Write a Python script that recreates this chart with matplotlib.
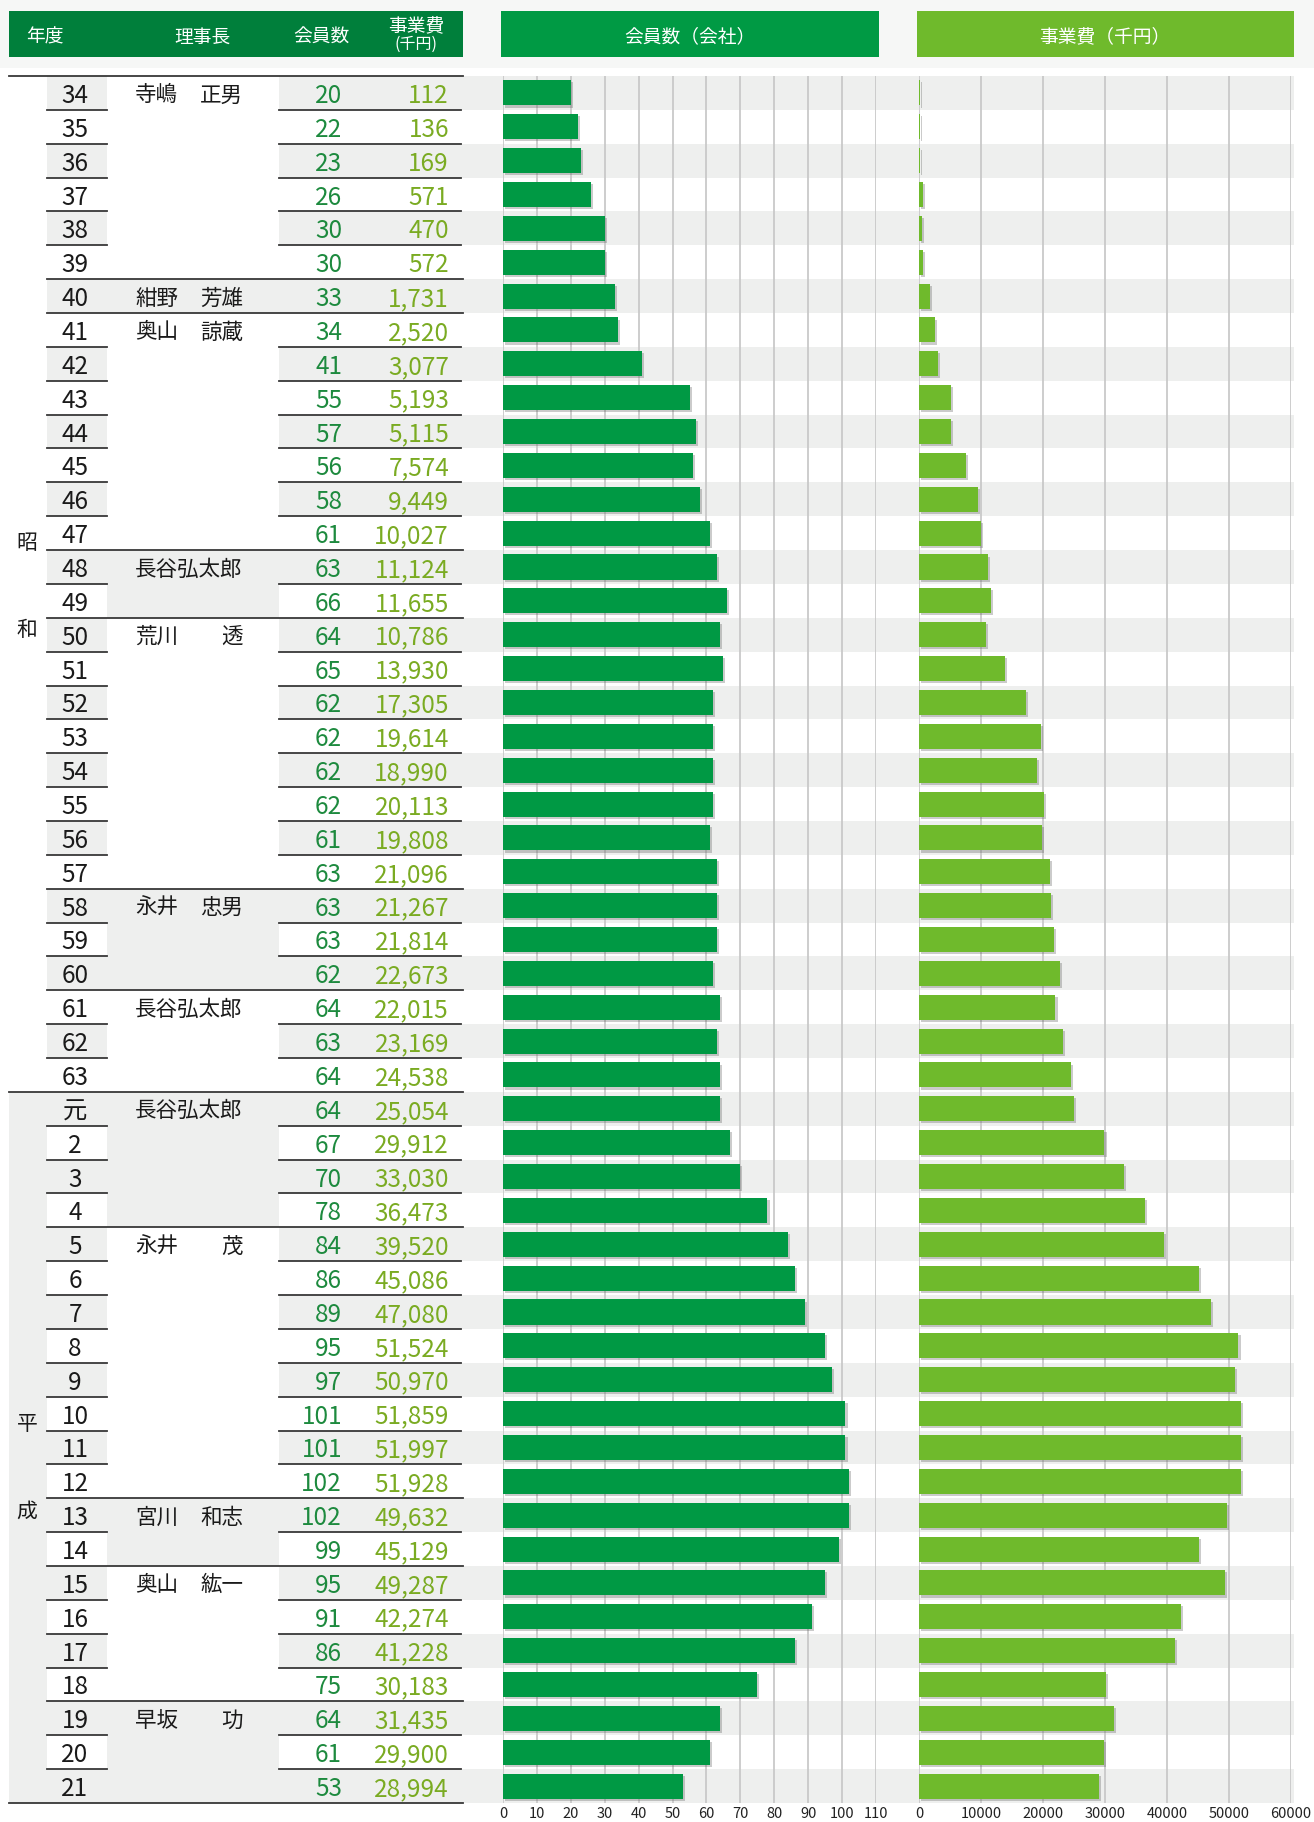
import matplotlib.pyplot as plt
import matplotlib.patheffects as pe
import numpy as np
from matplotlib.patches import Rectangle

plt.rcParams["font.family"] = ["Noto Sans CJK JP", "DejaVu Sans"]

# ---- data ----
years = [str(y) for y in range(34, 64)] + ["元"] + [str(y) for y in range(2, 22)]
members = [20, 22, 23, 26, 30, 30, 33, 34, 41, 55, 57, 56, 58, 61, 63, 66, 64, 65,
           62, 62, 62, 62, 61, 63, 63, 63, 62, 64, 63, 64,
           64, 67, 70, 78, 84, 86, 89, 95, 97, 101, 101, 102, 102, 99, 95, 91, 86,
           75, 64, 61, 53]
costs = [112, 136, 169, 571, 470, 572, 1731, 2520, 3077, 5193, 5115, 7574, 9449,
         10027, 11124, 11655, 10786, 13930, 17305, 19614, 18990, 20113, 19808,
         21096, 21267, 21814, 22673, 22015, 23169, 24538,
         25054, 29912, 33030, 36473, 39520, 45086, 47080, 51524, 50970, 51859,
         51997, 51928, 49632, 45129, 49287, 42274, 41228, 30183, 31435, 29900, 28994]
chair_names = [("寺嶋", "正男"), ("紺野", "芳雄"), ("奥山", "諒蔵"), ("長谷弘太郎", ""),
               ("荒川", "透"), ("永井", "忠男"), ("長谷弘太郎", ""), ("長谷弘太郎", ""),
               ("永井", "茂"), ("宮川", "和志"), ("奥山", "紘一"), ("早坂", "功")]
chair_terms = [6, 1, 7, 2, 8, 3, 3, 4, 8, 2, 4, 3]
eras = ["昭和", "平成"]
era_rows = [30, 21]
member_ticks = list(range(0, 111, 10))
cost_ticks = list(range(0, 60001, 10000))

# ---- layout (pixels) ----
W, H = 1314, 1822
TOP, BOT = 76, 1803
N = len(years)
RH = (BOT - TOP) / N
era_label_rows = [(13.8, 16.35), (39.8, 42.4)]

GRAY = "#eeefee"
LINE = "#383838"
DARK = "#009944"
LIGHT = "#6fba2c"
HEAD = "#007f3b"


def row_top(i):
    return TOP + i * RH


fig = plt.figure(figsize=(W / 100, H / 100), dpi=100)
bg = fig.add_axes([0, 0, 1, 1])
bg.set_xlim(0, W)
bg.set_ylim(H, 0)
bg.axis("off")

# faint top band
bg.add_patch(Rectangle((0, 0), W, 68, color="#f6f7f6", lw=0))

# headers
bg.add_patch(Rectangle((9, 11), 454, 46, color=HEAD, lw=0))
bg.add_patch(Rectangle((501, 11), 378, 46, color="#009a44", lw=0))
bg.add_patch(Rectangle((917, 11), 377, 46, color=LIGHT, lw=0))
hkw = dict(color="white", fontsize=13.5, ha="center", va="center")
bg.text(45, 37, "年度", **hkw)
bg.text(202, 37, "理事長", **hkw)
bg.text(321, 37, "会員数", **hkw)
bg.text(416, 27, "事業費", **hkw)
bg.text(416, 44, "(千円)", color="white", fontsize=11.5, ha="center", va="center")
bg.text(690, 37, "会員数（会社）", **hkw)
bg.text(1105, 37, "事業費（千円）", **hkw)

# row stripes (year cells + value cells across bar panels)
for i in range(N):
    if i % 2 == 0:
        bg.add_patch(Rectangle((47, row_top(i)), 60, RH, color=GRAY, lw=0))
        bg.add_patch(Rectangle((279, row_top(i)), 1294 - 279, RH, color=GRAY, lw=0))

# era column
start = 0
for k, (era, n) in enumerate(zip(eras, era_rows)):
    if k % 2 == 1:
        bg.add_patch(Rectangle((9, row_top(start)), 38, n * RH, color=GRAY, lw=0))
    for ch, r in zip(era, era_label_rows[k]):
        bg.text(27, TOP + r * RH, ch, fontsize=15, ha="center", va="center",
                color="#1a1a1a")
    start += n

# chairman column blocks
start = 0
bounds = []
for k, ((sur, given), n) in enumerate(zip(chair_names, chair_terms)):
    if k % 2 == 1:
        bg.add_patch(Rectangle((107, row_top(start)), 172, n * RH, color=GRAY, lw=0))
    yc = row_top(start) + RH / 2
    bg.text(135, yc, sur, fontsize=15.5, ha="left", va="center_baseline",
            color="#1a1a1a")
    if given:
        bg.text(243, yc, given, fontsize=15.5, ha="right", va="center_baseline",
                color="#1a1a1a")
    start += n
    bounds.append(start)

# row text
for i in range(N):
    yc = row_top(i) + RH / 2
    bg.text(75, yc, years[i], fontsize=17.5, ha="center", va="center_baseline",
            color="#1a1a1a")
    bg.text(342, yc, f"{members[i]}", fontsize=17.5, ha="right",
            va="center_baseline", color="#1d8a3e")
    bg.text(449, yc, f"{costs[i]:,}", fontsize=17.5, ha="right",
            va="center_baseline", color="#7aab22")

# row lines
era_ends = np.cumsum(era_rows)
for i in range(1, N):
    y = row_top(i)
    if i in era_ends:
        bg.plot([9, 463], [y, y], color=LINE, lw=1.3)
    elif i in bounds:
        bg.plot([47, 463], [y, y], color=LINE, lw=1.3)
    else:
        bg.plot([47, 107], [y, y], color=LINE, lw=1.3)
        bg.plot([279, 461], [y, y], color=LINE, lw=1.3)
bg.plot([9, 463], [TOP, TOP], color=LINE, lw=1.3)
bg.plot([9, 463], [BOT, BOT], color=LINE, lw=1.3)

# ---- bar panels ----
shadow = [pe.SimplePatchShadow(offset=(1.5, -1.5), shadow_rgbFace="#555555", alpha=0.3),
          pe.Normal()]
pos = np.arange(N) + 0.5


def bar_panel(x0, x1, values, ticks, color):
    ax = fig.add_axes([x0 / W, 1 - BOT / H, (x1 - x0) / W, (BOT - TOP) / H])
    ax.patch.set_alpha(0)
    ax.barh(pos, values, height=0.74, color=color, path_effects=shadow, zorder=3)
    ax.set_xlim(ticks[0], ticks[-1])
    ax.set_ylim(N, 0)
    ax.set_xticks(ticks)
    ax.set_yticks([])
    ax.grid(axis="x", color="#c9c9c9", lw=1.3, zorder=0)
    ax.tick_params(axis="x", length=0, pad=3, labelsize=10.5, labelcolor="#222222")
    for s in ax.spines.values():
        s.set_visible(False)
    return ax


bar_panel(503, 876, members, member_ticks, DARK)
bar_panel(919, 1291, costs, cost_ticks, LIGHT)

fig.savefig("out.png", dpi=100)
